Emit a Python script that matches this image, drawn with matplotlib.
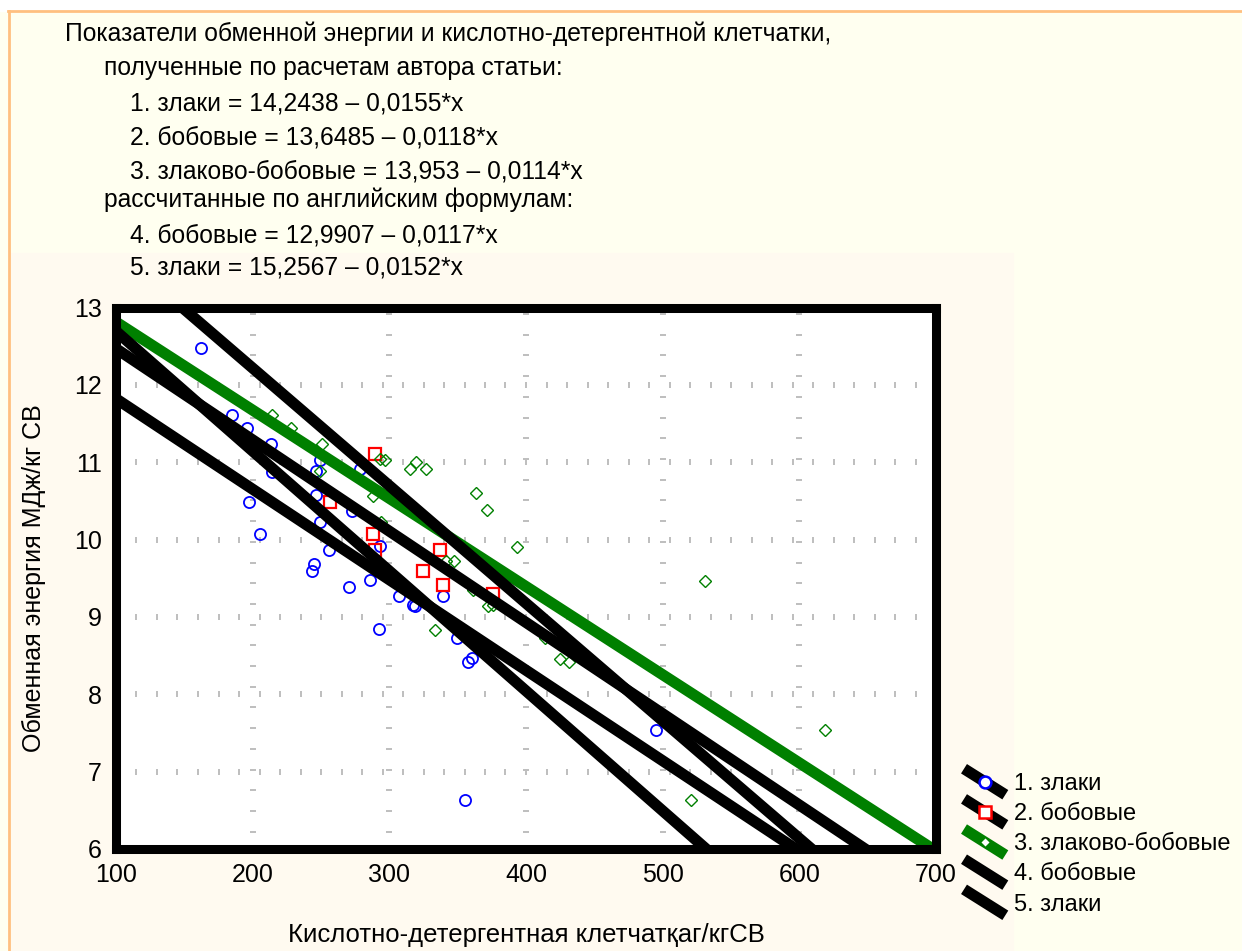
import numpy as np
import matplotlib
matplotlib.use('Agg')
import matplotlib.pyplot as plt
from matplotlib.lines import Line2D
from matplotlib.patches import Rectangle
from matplotlib.legend_handler import HandlerLine2D

plt.rcParams['font.family'] = ['Liberation Sans', 'DejaVu Sans']

# --- данные ---
# 1. злаки
zl_x = [162.0, 185.2, 196.1, 213.6, 214.4, 249.6, 246.7, 246.0, 197.3, 272.8,
        249.6, 205.3, 278.8, 255.7, 292.9, 244.8, 243.6, 270.3, 285.6, 306.8,
        319.0, 317.5, 339.6, 292.7, 349.4, 357.9, 360.4, 494.9, 355.5]
zl_y = [12.48, 11.61, 11.44, 11.23, 10.87, 11.03, 10.88, 10.58, 10.48, 10.37,
        10.23, 10.07, 10.91, 9.87, 9.92, 9.69, 9.60, 9.39, 9.48, 9.27,
        9.14, 9.16, 9.27, 8.84, 8.73, 8.42, 8.47, 7.54, 6.63]
# 2. бобовые
bob_x = [289.8, 256.9, 288.1, 289.8, 337.2, 324.6, 339.6, 376.1]
bob_y = [11.11, 10.48, 10.07, 9.87, 9.87, 9.60, 9.41, 9.29]
# 3. злаково-бобовые
zb_x = [214.4, 228.2, 250.9, 249.6, 292.9, 296.6, 319.7, 315.3, 326.8, 363.5,
        371.3, 393.2, 288.1, 294.2, 341.6, 347.0, 360.9, 372.5, 375.7, 333.1,
        413.9, 424.8, 431.4, 530.7, 619.0, 521.0, 289.0]
zb_y = [11.61, 11.44, 11.23, 10.88, 11.04, 11.03, 11.00, 10.91, 10.91, 10.60,
        10.38, 9.91, 10.56, 10.23, 9.72, 9.72, 9.35, 9.14, 9.15, 8.83,
        8.73, 8.46, 8.42, 9.47, 7.54, 6.63, 9.69]

# уравнения: y = a - b*x
eq_a = [14.2438, 13.6485, 13.953, 12.9907, 15.2567]
eq_b = [0.0155, 0.0118, 0.0114, 0.0117, 0.0152]
eq_labels = ['1. злаки', '2. бобовые', '3. злаково-бобовые', '4. бобовые', '5. злаки']

header = [
    ('Показатели обменной энергии и кислотно-детергентной клетчатки,', 0),
    ('полученные по расчетам автора статьи:', 1),
    ('1. злаки = 14,2438 – 0,0155*x', 2),
    ('2. бобовые = 13,6485 – 0,0118*x', 2),
    ('3. злаково-бобовые = 13,953 – 0,0114*x', 2),
    ('рассчитанные по английским формулам:', 1),
    ('4. бобовые = 12,9907 – 0,0117*x', 2),
    ('5. злаки = 15,2567 – 0,0152*x', 2),
]
header_y = [34, 68, 103, 138, 172, 200, 235, 268]
indent_x = [65, 104, 130]

xticks = [100, 200, 300, 400, 500, 600, 700]
yticks = [6, 7, 8, 9, 10, 11, 12, 13]

W, H = 1242, 951


class DiagHandler(HandlerLine2D):
    """наклонная линия в легенде, как в Statistica"""
    def create_artists(self, legend, orig_handle, xdescent, ydescent,
                       width, height, fontsize, trans):
        x0, x1 = -xdescent, -xdescent + width
        yc = -ydescent + height / 2
        dy = 0.55 * fontsize
        ln = Line2D([x0, x1], [yc + dy, yc - dy], color=orig_handle.get_color(),
                    lw=orig_handle.get_linewidth(), solid_capstyle='butt')
        ln.set_transform(trans)
        arts = [ln]
        if orig_handle.get_marker() not in (None, 'None', '', ' '):
            mk = Line2D([(x0 + x1) / 2], [yc], linestyle='none',
                        marker=orig_handle.get_marker(),
                        markersize=orig_handle.get_markersize(),
                        markerfacecolor=orig_handle.get_markerfacecolor(),
                        markeredgecolor=orig_handle.get_markeredgecolor(),
                        markeredgewidth=orig_handle.get_markeredgewidth())
            mk.set_transform(trans)
            arts.append(mk)
        return arts


fig = plt.figure(figsize=(W / 100, H / 100), dpi=100, facecolor='#FFFFF0')

# фон и рамка
fig.add_artist(Rectangle((0, 1 - 10.5 / H), 1, 10.5 / H, transform=fig.transFigure,
                         color='white', zorder=-2))
fig.add_artist(Rectangle((10 / W, 0), (1013 - 10) / W, (H - 253) / H,
                         transform=fig.transFigure, color='#FFFAF0', zorder=-2))
fig.add_artist(Line2D([8 / W, 1], [1 - 10.5 / H, 1 - 10.5 / H], transform=fig.transFigure,
                      color='#FFC080', lw=2, zorder=-1))
fig.add_artist(Line2D([8.5 / W, 8.5 / W], [0, 1 - 10.5 / H], transform=fig.transFigure,
                      color='#FFC080', lw=2, zorder=-1))

for (txt, lvl), yy in zip(header, header_y):
    fig.text(indent_x[lvl] / W, 1 - yy / H, txt, fontsize=17.7, va='center', ha='left')

ax = fig.add_axes([116 / W, 1 - 849 / H, (936 - 116) / W, (849 - 307.5) / H])
ax.set_zorder(2)
ax.set_facecolor('white')
ax.set_xlim(100, 700)
ax.set_ylim(6, 13)

# пунктирная сетка из штрихов
gcol = '#BEBEBE'
ydash = np.arange(12.916, 6.0, -0.2677)
xdash = np.arange(115, 700, 15)
for gx in xticks[1:-1]:
    ax.plot(np.full_like(ydash, gx), ydash, linestyle='none', marker='_',
            markersize=4.5, markeredgewidth=1.4, color=gcol, zorder=1)
for gy in yticks[1:-1]:
    ax.plot(xdash, np.full_like(xdash, gy, dtype=float), linestyle='none', marker='|',
            markersize=4.5, markeredgewidth=1.4, color=gcol, zorder=1)

# точки
ax.plot(zl_x, zl_y, linestyle='none', marker='o', markersize=8, markerfacecolor='none',
        markeredgecolor='#0000FF', markeredgewidth=1.3, zorder=2)
ax.plot(bob_x, bob_y, linestyle='none', marker='s', markersize=8, markerfacecolor='none',
        markeredgecolor='#FF0000', markeredgewidth=1.6, zorder=2)
ax.plot(zb_x, zb_y, linestyle='none', marker='D', markersize=6.5, markerfacecolor='none',
        markeredgecolor='#008000', markeredgewidth=1.0, zorder=2)

# линии регрессии
xx = np.array([100.0, 700.0])
line_col = ['black', 'black', '#008000', 'black', 'black']
order = [2, 0, 1, 3, 4]
for i in order:
    ax.plot(xx, eq_a[i] - eq_b[i] * xx, color=line_col[i], lw=8, solid_capstyle='butt',
            zorder=3)

for s in ax.spines.values():
    s.set_linewidth(6.5)
    s.set_color('black')
    s.set_zorder(5)

ax.set_xticks(xticks)
ax.set_yticks(yticks)
ax.tick_params(length=0, labelsize=18, pad=10)
ax.set_xlabel('Кислотно-детергентная клетчатқаг/кгСВ', fontsize=18.5, labelpad=26)
ax.set_ylabel('Обменная энергия МДж/кг СВ', fontsize=18, labelpad=20)

# легенда
mk_style = [
    dict(marker='o', markersize=8.5, markerfacecolor='white', markeredgecolor='#0000FF',
         markeredgewidth=1.8),
    dict(marker='s', markersize=8.5, markerfacecolor='white', markeredgecolor='#FF0000',
         markeredgewidth=1.8),
    dict(marker='D', markersize=5, markerfacecolor='white', markeredgecolor='#008000',
         markeredgewidth=1.0),
    dict(marker='None'),
    dict(marker='None'),
]
handles = [Line2D([], [], color=line_col[i], lw=8, **mk_style[i]) for i in range(5)]
fig.legend(handles, eq_labels, loc='upper left', bbox_to_anchor=(964 / W, 1 - 773 / H),
           frameon=False, fontsize=17, handlelength=1.75, handletextpad=0.35,
           labelspacing=0.345, borderpad=0, borderaxespad=0,
           handler_map={Line2D: DiagHandler()})

fig.savefig('out.png', dpi=100, facecolor=fig.get_facecolor())
